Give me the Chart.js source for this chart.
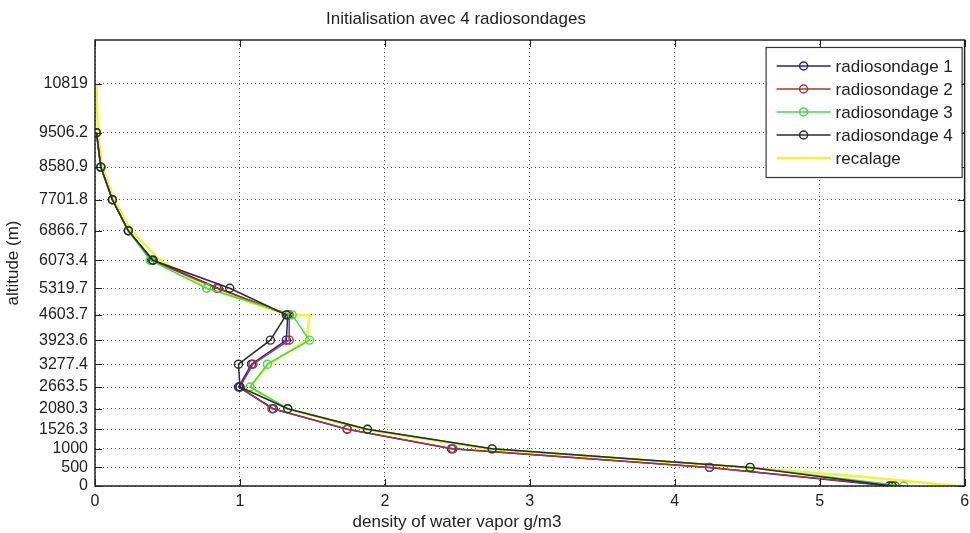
<!DOCTYPE html>
<html>
<head>
<meta charset="utf-8">
<script src="https://cdn.jsdelivr.net/npm/chart.js@4.4.0/dist/chart.umd.min.js"></script>
<style>
  html, body { margin: 0; padding: 0; background: #fff; }
  #wrap { width: 970px; height: 533px; }
</style>
</head>
<body>
<div id="wrap"><canvas id="c" width="970" height="533"></canvas></div>
<script>
// --- data ---
const altitudes = [0, 500, 1000, 1526.3, 2080.3, 2663.5, 3277.4, 3923.6, 4603.7, 5319.7, 6073.4, 6866.7, 7701.8, 8580.9, 9506.2];
const yTickValues = [0, 500, 1000, 1526.3, 2080.3, 2663.5, 3277.4, 3923.6, 4603.7, 5319.7, 6073.4, 6866.7, 7701.8, 8580.9, 9506.2, 10819];
const xTickValues = [0, 1, 2, 3, 4, 5, 6];

const radiosondage1 = [5.48, 4.24, 2.46, 1.74, 1.23, 0.99, 1.08, 1.32, 1.33, 0.85, 0.40, 0.23, 0.12, 0.04, 0.01];
const radiosondage2 = [5.52, 4.24, 2.47, 1.74, 1.22, 1.00, 1.09, 1.34, 1.34, 0.84, 0.39, 0.23, 0.12, 0.04, 0.01];
const radiosondage3 = [5.58, 4.52, 2.74, 1.88, 1.33, 1.07, 1.19, 1.48, 1.36, 0.77, 0.38, 0.23, 0.12, 0.04, 0.01];
const radiosondage4 = [5.50, 4.52, 2.74, 1.88, 1.33, 1.00, 0.99, 1.21, 1.32, 0.93, 0.40, 0.23, 0.12, 0.04, 0.01];

const recalageAlt = [0, 250, 500, 1000, 1526.3, 2080.3, 2663.5, 3277.4, 3923.6, 4603.7, 4603.7, 5319.7, 6073.4, 6866.7, 7701.8, 8580.9, 9506.2, 10819];
const recalageVal = [5.95, 5.3, 4.5, 2.7, 1.86, 1.32, 1.07, 1.2, 1.46, 1.48, 1.33, 0.78, 0.45, 0.25, 0.13, 0.05, 0.02, 0.01];

const seriesNames = ['radiosondage 1', 'radiosondage 2', 'radiosondage 3', 'radiosondage 4', 'recalage'];
const seriesColors = ['#22229a', '#a83636', '#44dc44', '#2c2c2c', '#f2f23a'];

const chartTitle = 'Initialisation avec 4 radiosondages';
const xLabel = 'density of water vapor g/m3';
const yLabel = 'altitude (m)';

const FONT = '"Liberation Sans", Arial, sans-serif';

function toPoints(values, alts) {
    return values.map((v, i) => ({ x: v, y: alts[i] }));
}

function sonde(idx, values) {
    return {
        label: seriesNames[idx],
        data: toPoints(values, altitudes),
        showLine: true,
        borderColor: seriesColors[idx],
        borderWidth: 1.5,
        pointRadius: 4,
        pointBorderWidth: 1.4,
        pointBackgroundColor: 'rgba(0,0,0,0)',
        pointBorderColor: seriesColors[idx],
        order: 5 - idx
    };
}

// box, inward ticks, texts and legend drawn around the plot
const decorations = {
    id: 'decorations',
    afterDraw(chart) {
        const { ctx, chartArea: a, scales } = chart;
        ctx.save();

        // inward tick marks
        ctx.strokeStyle = '#222';
        ctx.lineWidth = 1;
        ctx.beginPath();
        xTickValues.forEach(v => {
            const px = Math.round(scales.x.getPixelForValue(v)) + 0.5;
            ctx.moveTo(px, a.bottom); ctx.lineTo(px, a.bottom - 7);
            ctx.moveTo(px, a.top); ctx.lineTo(px, a.top + 7);
        });
        yTickValues.forEach(v => {
            const py = Math.round(scales.y.getPixelForValue(v)) + 0.5;
            ctx.moveTo(a.left, py); ctx.lineTo(a.left + 7, py);
            ctx.moveTo(a.right, py); ctx.lineTo(a.right - 7, py);
        });
        ctx.stroke();

        // box
        ctx.lineWidth = 1.5;
        ctx.strokeStyle = '#222';
        ctx.strokeRect(a.left, a.top, a.right - a.left, a.bottom - a.top);

        // title and axis labels
        ctx.fillStyle = '#222';
        ctx.font = '17px ' + FONT;
        ctx.textAlign = 'center';
        ctx.textBaseline = 'middle';
        ctx.fillText(chartTitle, 456, 19);
        ctx.fillText(xLabel, 457, 522);
        ctx.save();
        ctx.translate(13, (a.top + a.bottom) / 2);
        ctx.rotate(-Math.PI / 2);
        ctx.fillText(yLabel, 0, 0);
        ctx.restore();

        // legend
        const bw = 196, bh = 130;
        const bx = a.right - 3 - bw, by = a.top + 7;
        ctx.fillStyle = '#fff';
        ctx.fillRect(bx, by, bw, bh);
        ctx.lineWidth = 1.2;
        ctx.strokeStyle = '#333';
        ctx.strokeRect(bx + 0.5, by + 0.5, bw, bh);
        ctx.textAlign = 'left';
        ctx.font = '17px ' + FONT;
        seriesNames.forEach((name, i) => {
            const ry = by + 19 + i * 23;
            const ds = chart.data.datasets[i];
            ctx.strokeStyle = ds.borderColor;
            ctx.lineWidth = i === 4 ? 2.5 : 1.5;
            ctx.beginPath();
            ctx.moveTo(bx + 11, ry); ctx.lineTo(bx + 65, ry);
            ctx.stroke();
            if (ds.pointRadius > 0) {
                ctx.beginPath();
                ctx.arc(bx + 38, ry, 4, 0, Math.PI * 2);
                ctx.stroke();
            }
            ctx.fillStyle = '#222';
            ctx.fillText(name, bx + 70, ry + 1);
        });
        ctx.restore();
    }
};

const ctx = document.getElementById('c').getContext('2d');
new Chart(ctx, {
    type: 'scatter',
    data: {
        datasets: [
            sonde(0, radiosondage1),
            sonde(1, radiosondage2),
            sonde(2, radiosondage3),
            sonde(3, radiosondage4),
            {
                label: seriesNames[4],
                data: toPoints(recalageVal, recalageAlt),
                showLine: true,
                borderColor: seriesColors[4],
                borderWidth: 2.5,
                pointRadius: 0,
                order: 6
            }
        ]
    },
    options: {
        responsive: false,
        animation: false,
        layout: { padding: { top: 40, right: 5, left: 0, bottom: 0 } },
        plugins: { legend: { display: false }, tooltip: { enabled: false }, title: { display: false } },
        scales: {
            x: {
                type: 'linear',
                min: 0,
                max: 6,
                afterBuildTicks: s => { s.ticks = xTickValues.map(v => ({ value: v })); },
                afterFit: s => { s.height = 47; s.paddingLeft = 0; s.paddingRight = 0; },
                ticks: { color: '#222', padding: 6, font: { family: FONT, size: 16 } },
                grid: { color: '#555', drawTicks: false },
                border: { display: false, dash: [1, 3] }
            },
            y: {
                type: 'linear',
                min: 0,
                max: 12000,
                afterBuildTicks: s => { s.ticks = yTickValues.map(v => ({ value: v })); },
                afterFit: s => { s.width = 95; s.paddingTop = 0; s.paddingBottom = 0; },
                ticks: { color: '#222', padding: 7, font: { family: FONT, size: 16 }, callback: v => String(v) },
                grid: { color: '#555', drawTicks: false },
                border: { display: false, dash: [1, 3] }
            }
        }
    },
    plugins: [decorations]
});
</script>
</body>
</html>
